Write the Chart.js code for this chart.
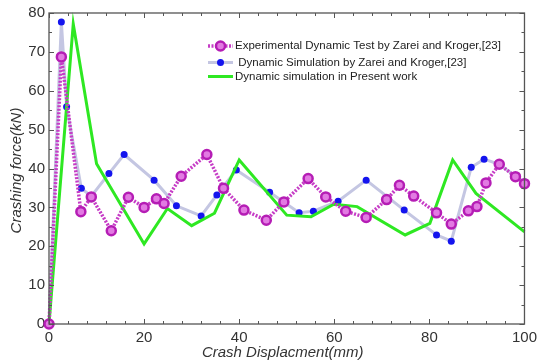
<!DOCTYPE html>
<html><head><meta charset="utf-8">
<script src="https://cdn.jsdelivr.net/npm/chart.js@4/dist/chart.umd.min.js"></script>
<style>html,body{margin:0;padding:0;background:#fff;}canvas{display:block;}</style>
</head><body>
<canvas id="c" width="542" height="364"></canvas>
<script>
// ---- data ----
const expX = [0, 2.6, 6.7, 8.9, 13.1, 16.7, 20, 22.6, 24.2, 27.8, 33.2, 36.7, 41, 45.7, 49.4, 54.5, 58.2, 62.4, 66.7, 71, 73.7, 76.7, 81.5, 84.6, 88.2, 90, 91.9, 94.7, 98.1, 100];
const expY = [0, 68.7, 28.9, 32.7, 24, 32.6, 30, 32.2, 31, 38, 43.6, 34.9, 29.3, 26.7, 31.4, 37.4, 32.7, 29, 27.4, 32, 35.7, 32.9, 28.6, 25.7, 29.1, 30.2, 36.3, 41.1, 37.9, 36.1];
const simX = [0, 2.6, 3.7, 6.8, 8.9, 12.6, 15.8, 22.1, 26.8, 32, 35.3, 39.4, 46.4, 52.6, 55.6, 60.8, 66.7, 74.7, 81.5, 84.6, 88.8, 91.5, 94.7, 98.1, 100];
const simY = [0, 77.7, 55.9, 34.9, 32.9, 38.7, 43.6, 37, 30.4, 27.8, 33.2, 39.6, 33.9, 28.6, 29, 31.6, 37, 29.3, 22.9, 21.3, 40.3, 42.4, 41.1, 38, 36.5];
const presX = [0, 5.1, 10, 20, 24.9, 30, 34.8, 40, 50, 55.1, 59.9, 64.8, 74.9, 80.1, 84.9, 89.8, 100];
const presY = [0, 77.2, 41.2, 20.6, 29.7, 25.3, 28.5, 42.2, 28, 27.6, 30.8, 30.2, 22.9, 25.9, 42.2, 33.6, 23.7];
const seriesNames = ["Experimental Dynamic Test by Zarei and Kroger,[23]", " Dynamic Simulation by Zarei and Kroger,[23]", "Dynamic simulation in Present work"];
const xTitle = "Crash Displacment(mm)";
const yTitle = "Crashing force(kN)";

const pts = (xs, ys) => xs.map((x, i) => ({x: x, y: ys[i]}));

const FONT = 'Arial, "Liberation Sans", sans-serif';
const TXT = '#333333';

const frame = {
  id: 'frame',
  afterDatasetsDraw(chart) {
    const ctx = chart.ctx, a = chart.chartArea;
    const xs = chart.scales.x, ys = chart.scales.y;
    ctx.save();
    ctx.strokeStyle = '#555';
    ctx.lineWidth = 1.3;
    ctx.strokeRect(a.left, a.top, a.right - a.left, a.bottom - a.top);
    ctx.lineWidth = 1;
    for (let v = 0; v <= 100; v += 4) {
      const p = Math.round(xs.getPixelForValue(v)) + 0.5;
      const L = (v % 20 === 0) ? 5 : 3;
      ctx.beginPath();
      ctx.moveTo(p, a.bottom); ctx.lineTo(p, a.bottom - L);
      ctx.moveTo(p, a.top); ctx.lineTo(p, a.top + L);
      ctx.stroke();
    }
    for (let v = 0; v <= 80; v += 5) {
      const p = Math.round(ys.getPixelForValue(v)) + 0.5;
      const L = (v % 10 === 0) ? 5 : 3;
      ctx.beginPath();
      ctx.moveTo(a.left, p); ctx.lineTo(a.left + L, p);
      ctx.moveTo(a.right, p); ctx.lineTo(a.right - L, p);
      ctx.stroke();
    }
    // axis titles
    ctx.fillStyle = TXT;
    ctx.font = 'italic 15px ' + FONT;
    ctx.textAlign = 'center';
    ctx.textBaseline = 'middle';
    ctx.fillText(xTitle, (a.left + a.right) / 2 - 4, 353);
    ctx.translate(17, (a.top + a.bottom) / 2 + 2);
    ctx.rotate(-Math.PI / 2);
    ctx.fillText(yTitle, 0, 0);
    ctx.restore();

    // legend
    ctx.save();
    const rows = [46, 62.5, 76.5];
    const ds = chart.data.datasets;
    ctx.font = '11.5px ' + FONT;
    ctx.textAlign = 'left';
    ctx.textBaseline = 'middle';
    rows.forEach((y, i) => {
      const d = ds[i];
      ctx.strokeStyle = d.borderColor;
      ctx.lineWidth = d.borderWidth;
      ctx.setLineDash(d.borderDash || []);
      ctx.beginPath(); ctx.moveTo(208, y); ctx.lineTo(233, y); ctx.stroke();
      ctx.setLineDash([]);
      if (d.pointRadius > 0) {
        ctx.beginPath(); ctx.arc(220.5, y, d.pointRadius, 0, Math.PI * 2);
        ctx.fillStyle = d.pointBackgroundColor; ctx.fill();
        ctx.lineWidth = d.pointBorderWidth; ctx.strokeStyle = d.pointBorderColor;
        if (d.pointBorderWidth > 0) ctx.stroke();
      }
      ctx.fillStyle = '#222';
      ctx.fillText(d.label, 235, y);
    });
    ctx.restore();
  }
};

new Chart(document.getElementById('c'), {
  type: 'line',
  data: {
    datasets: [
      {
        label: seriesNames[0], data: pts(expX, expY),
        borderColor: '#c63cc6', borderWidth: 3.5, borderDash: [2, 1.5],
        pointRadius: 4.5, pointBackgroundColor: '#e27ae2', pointBorderColor: '#b51db5', pointBorderWidth: 2.5,
        tension: 0, clip: false, order: 1
      },
      {
        label: seriesNames[1], data: pts(simX, simY),
        borderColor: '#c4c6e2', borderWidth: 3,
        pointRadius: 3.5, pointBackgroundColor: '#1414ee', pointBorderColor: '#1414ee', pointBorderWidth: 0,
        tension: 0, clip: false, order: 3
      },
      {
        label: seriesNames[2], data: pts(presX, presY),
        borderColor: '#2ee822', borderWidth: 3,
        pointRadius: 0, tension: 0, clip: false, order: 2
      }
    ]
  },
  options: {
    responsive: false,
    animation: false,
    events: [],
    layout: { padding: { top: 13, right: 14, left: 0, bottom: 0 } },
    plugins: { legend: { display: false }, tooltip: { enabled: false } },
    scales: {
      x: {
        type: 'linear', min: 0, max: 100,
        afterFit(s) { s.height = 40; },
        grid: { display: false, drawTicks: false },
        border: { display: false },
        ticks: { stepSize: 20, padding: 5, color: TXT, font: { family: FONT, size: 15 }, maxRotation: 0 }
      },
      y: {
        type: 'linear', min: 0, max: 80,
        afterFit(s) { s.width = 49; },
        grid: { display: false, drawTicks: false },
        border: { display: false },
        ticks: { stepSize: 10, padding: 4, color: TXT, font: { family: FONT, size: 15 } }
      }
    }
  },
  plugins: [frame]
});
</script>
</body></html>
